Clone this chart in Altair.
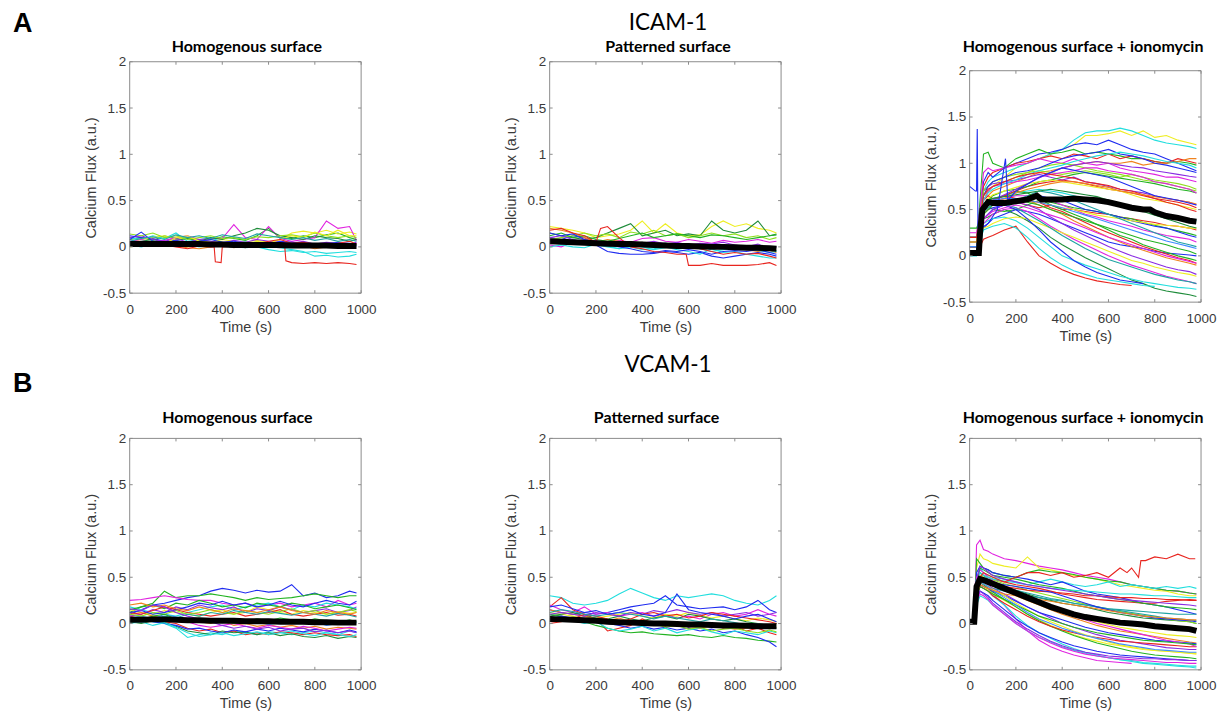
import sys
import altair as alt
import pandas as pd

# ------------------------------------------------------------------ data
PAL = {
    "r": "#e8251f", "g": "#22b322", "b": "#1f2cf0", "c": "#22dede",
    "m": "#e024e0", "y": "#eeee22", "o": "#f0821e", "dg": "#1e8c3a",
    "p": "#8a2be2", "l": "#8fe01e", "t": "#1fa3a3", "lb": "#3d8cff",
}

X_TICKS = [0, 200, 400, 600, 800, 1000]
Y_TICKS = [-0.5, 0, 0.5, 1, 1.5, 2]

T_BASE = [0, 50, 100, 150, 200, 250, 300, 350, 400, 450, 500, 550, 600, 650,
          700, 750, 800, 850, 900, 950, 980]

# ---- ICAM-1, homogenous surface
A1_MEAN = [0.03, 0.03, 0.03, 0.03, 0.03, 0.03, 0.03, 0.025, 0.025, 0.02, 0.02,
           0.02, 0.02, 0.02, 0.015, 0.015, 0.015, 0.015, 0.01, 0.01, 0.01]
A1_TRACES = [
    ("g",  [0.08, 0.10, 0.07, 0.12, 0.09, 0.10, 0.06, 0.08, 0.11, 0.09, 0.07, 0.12, 0.20, 0.10, 0.09, 0.12, 0.10, 0.13, 0.15, 0.10, 0.08]),
    ("b",  [0.12, 0.10, 0.09, 0.06, 0.04, 0.03, 0.05, 0.04, 0.02, 0.01, 0.03, 0.02, 0.00, 0.02, 0.03, 0.00, 0.01, 0.04, 0.02, 0.03, 0.01]),
    ("c",  [0.10, 0.08, 0.12, 0.09, 0.15, 0.06, 0.08, 0.10, 0.05, 0.03, 0.06, 0.02, 0.00, -0.01, -0.03, -0.05, -0.10, -0.09, -0.11, -0.10, -0.08]),
    ("y",  [0.05, 0.08, 0.10, 0.12, 0.08, 0.10, 0.07, 0.05, 0.08, 0.06, 0.05, 0.07, 0.05, 0.08, 0.15, 0.17, 0.15, 0.18, 0.14, 0.16, 0.14]),
    ("m",  [0.06, 0.08, 0.05, 0.07, 0.10, 0.12, 0.08, 0.09, 0.09, 0.24, 0.10, 0.08, 0.22, 0.09, 0.06, 0.08, 0.10, 0.28, 0.20, 0.22, 0.07]),
    ("o",  [0.02, 0.04, 0.03, 0.05, 0.01, -0.01, -0.02, 0.00, 0.02, -0.01, 0.01, 0.00, 0.03, 0.02, 0.00, 0.01, -0.02, 0.00, 0.02, 0.01, 0.03]),
    ("dg", [0.04, 0.06, 0.08, 0.05, 0.07, 0.09, 0.06, 0.10, 0.08, 0.12, 0.15, 0.20, 0.18, 0.12, 0.10, 0.08, 0.12, 0.10, 0.09, 0.06, 0.08]),
    ("p",  [0.10, 0.12, 0.08, 0.06, 0.09, 0.05, 0.08, 0.06, 0.04, 0.07, 0.05, 0.08, 0.06, 0.05, 0.04, 0.06, 0.03, 0.05, 0.04, 0.03, 0.05]),
    ("l",  [0.14, 0.12, 0.15, 0.10, 0.12, 0.08, 0.10, 0.12, 0.09, 0.10, 0.08, 0.11, 0.10, 0.12, 0.13, 0.11, 0.15, 0.12, 0.10, 0.12, 0.10]),
    ("c",  [0.02, 0.00, 0.03, 0.05, 0.02, 0.03, 0.00, 0.02, 0.01, 0.00, -0.01, 0.00, -0.03, -0.05, -0.04, -0.06, -0.05, -0.07, -0.06, -0.05, -0.06]),
    ("b",  [0.08, 0.16, 0.06, 0.05, 0.07, 0.04, 0.06, 0.08, 0.05, 0.06, 0.04, 0.05, 0.03, 0.06, 0.05, 0.04, 0.02, 0.03, 0.05, 0.04, 0.02]),
    ("y",  [0.00, 0.02, 0.05, 0.03, 0.10, 0.12, 0.06, 0.04, 0.03, 0.05, 0.02, 0.06, 0.04, 0.08, 0.12, 0.10, 0.16, 0.12, 0.18, 0.12, 0.12]),
    ("r",  [0.05, 0.03, 0.02, 0.04, 0.06, 0.03, 0.05, 0.03, 0.05, 0.02, 0.04, 0.03, 0.06, 0.08, 0.04, 0.05, 0.03, 0.02, 0.04, 0.06, 0.03]),
    ("t",  [0.06, 0.09, 0.11, 0.08, 0.13, 0.10, 0.12, 0.09, 0.13, 0.11, 0.09, 0.14, 0.12, 0.10, 0.08, 0.10, 0.07, 0.09, 0.06, 0.08, 0.06]),
]
A1_RED_T = [0, 50, 100, 150, 200, 250, 300, 350, 365, 370, 395, 400, 450, 500,
            550, 600, 650, 670, 675, 700, 750, 800, 850, 900, 950, 980]
A1_RED_Y = [0.03, 0.02, 0.04, 0.02, 0.00, -0.02, 0.01, 0.00, 0.00, -0.16, -0.17,
            0.00, 0.01, -0.01, 0.02, 0.00, -0.01, 0.00, -0.15, -0.17, -0.18,
            -0.17, -0.18, -0.17, -0.18, -0.19]

# ---- ICAM-1, patterned surface
A2_MEAN = [0.06, 0.055, 0.05, 0.045, 0.04, 0.035, 0.03, 0.03, 0.025, 0.02, 0.015,
           0.01, 0.01, 0.005, 0.0, 0.0, -0.005, -0.01, -0.01, -0.015, -0.02]
A2_TRACES = [
    ("y",  [0.22, 0.20, 0.18, 0.15, 0.10, 0.12, 0.14, 0.18, 0.28, 0.15, 0.25, 0.15, 0.12, 0.13, 0.22, 0.28, 0.22, 0.25, 0.20, 0.18, 0.15]),
    ("dg", [0.15, 0.12, 0.10, 0.08, 0.10, 0.15, 0.20, 0.25, 0.12, 0.15, 0.18, 0.12, 0.14, 0.12, 0.28, 0.18, 0.15, 0.18, 0.28, 0.12, 0.13]),
    ("b",  [0.10, 0.08, 0.12, 0.10, 0.02, -0.05, -0.07, -0.08, -0.08, -0.07, -0.05, -0.06, -0.08, -0.06, -0.10, -0.12, -0.10, -0.08, -0.06, -0.08, -0.10]),
    ("c",  [0.05, 0.03, 0.06, 0.04, 0.02, 0.00, -0.02, 0.00, -0.03, -0.02, 0.00, -0.03, -0.05, -0.08, -0.02, -0.06, -0.05, -0.08, -0.10, -0.12, -0.12]),
    ("m",  [0.02, 0.00, 0.05, 0.08, 0.06, 0.04, 0.07, 0.05, 0.09, 0.10, 0.06, 0.05, 0.08, 0.06, 0.04, 0.07, 0.05, 0.06, 0.08, 0.05, 0.06]),
    ("o",  [0.20, 0.18, 0.15, 0.10, 0.05, 0.08, 0.06, 0.04, 0.05, 0.03, 0.02, 0.04, 0.00, 0.02, 0.01, -0.02, 0.00, -0.03, -0.05, -0.04, -0.06]),
    ("l",  [0.08, 0.10, 0.12, 0.15, 0.12, 0.14, 0.10, 0.16, 0.14, 0.18, 0.12, 0.14, 0.10, 0.12, 0.15, 0.12, 0.14, 0.10, 0.12, 0.08, 0.10]),
    ("p",  [0.10, 0.12, 0.08, 0.05, 0.07, 0.03, 0.05, 0.02, 0.04, 0.06, 0.03, 0.05, 0.02, 0.04, 0.03, 0.05, 0.02, 0.00, 0.03, -0.02, 0.00]),
    ("g",  [0.12, 0.15, 0.10, 0.12, 0.08, 0.06, 0.09, 0.12, 0.15, 0.10, 0.12, 0.14, 0.12, 0.10, 0.13, 0.12, 0.10, 0.08, 0.10, 0.12, 0.14]),
    ("c",  [0.00, 0.02, 0.00, -0.01, 0.03, 0.01, -0.02, 0.02, 0.00, -0.03, -0.01, 0.02, 0.00, -0.02, -0.05, -0.03, 0.00, -0.02, -0.04, -0.06, -0.05]),
    ("b",  [0.15, 0.12, 0.14, 0.08, 0.05, 0.03, 0.00, -0.02, -0.05, -0.06, -0.04, -0.05, -0.03, -0.05, -0.08, -0.05, -0.04, -0.05, -0.03, -0.06, -0.08]),
    ("r",  [0.05, 0.07, 0.04, 0.06, 0.03, 0.05, 0.02, 0.04, 0.03, 0.01, 0.03, 0.00, 0.02, -0.02, -0.05, -0.08, -0.06, -0.08, -0.07, -0.10, -0.12]),
    ("t",  [0.04, 0.06, 0.03, 0.05, 0.02, 0.04, 0.06, 0.03, 0.05, 0.02, 0.04, 0.01, 0.03, 0.00, 0.02, -0.01, 0.01, -0.02, 0.00, -0.03, -0.04]),
]
A2_RED_T = [0, 50, 100, 150, 200, 220, 250, 300, 350, 400, 450, 500, 550, 590,
            600, 650, 700, 750, 800, 850, 900, 950, 980]
A2_RED_Y = [0.18, 0.20, 0.15, 0.12, 0.05, 0.20, 0.22, 0.10, 0.00, -0.02, -0.05,
            -0.06, -0.08, -0.08, -0.20, -0.20, -0.18, -0.20, -0.20, -0.20, -0.19,
            -0.17, -0.20]

# ---- ICAM-1, homogenous surface + ionomycin
T_A3 = [0, 30, 45, 60, 80, 100, 150, 200, 250, 300, 350, 400, 450, 500, 550,
        600, 650, 700, 750, 800, 850, 900, 950, 980]
A3_MEAN_T = [0, 20, 40, 45, 55, 80, 100, 150, 200, 250, 290, 310, 350, 400, 450,
             500, 550, 600, 650, 700, 750, 780, 800, 850, 900, 950, 980]
A3_MEAN_Y = [0.03, 0.03, 0.03, 0.25, 0.50, 0.58, 0.57, 0.57, 0.59, 0.61, 0.65,
             0.61, 0.61, 0.61, 0.62, 0.61, 0.60, 0.58, 0.55, 0.52, 0.50, 0.50,
             0.47, 0.43, 0.41, 0.38, 0.37]
A3_TRACES = [
    ("y",  [0.05, 0.05, 0.30, 0.60, 0.70, 0.75, 0.85, 0.95, 1.00, 1.05, 1.10, 1.15, 1.20, 1.30, 1.30, 1.32, 1.35, 1.30, 1.35, 1.28, 1.30, 1.25, 1.22, 1.20]),
    ("c",  [0.10, 0.10, 0.40, 0.70, 0.80, 0.85, 0.90, 0.95, 1.00, 1.05, 1.10, 1.15, 1.25, 1.33, 1.35, 1.35, 1.38, 1.35, 1.30, 1.25, 1.22, 1.20, 1.18, 1.16]),
    ("b",  [0.20, 0.20, 0.50, 0.80, 0.90, 0.85, 0.95, 1.00, 1.05, 1.10, 1.12, 1.15, 1.20, 1.22, 1.20, 1.25, 1.20, 1.15, 1.12, 1.10, 1.05, 1.00, 0.95, 0.92]),
    ("g",  [0.15, 0.15, 0.60, 1.10, 1.12, 1.00, 0.95, 1.05, 1.10, 1.15, 1.10, 1.12, 1.15, 1.10, 1.12, 1.10, 1.08, 1.05, 1.05, 1.02, 1.00, 1.02, 1.00, 0.98]),
    ("r",  [0.05, 0.05, 0.40, 0.75, 0.85, 0.90, 0.95, 1.00, 1.02, 1.05, 1.08, 1.05, 1.10, 1.08, 1.05, 1.10, 1.05, 1.08, 1.05, 1.02, 1.00, 1.05, 1.02, 1.00]),
    ("m",  [0.25, 0.25, 0.50, 0.90, 0.95, 0.92, 0.95, 0.98, 1.00, 1.05, 1.02, 1.00, 1.05, 1.00, 0.98, 1.00, 0.95, 0.92, 0.90, 0.88, 0.85, 0.85, 0.82, 0.80]),
    ("o",  [0.10, 0.10, 0.30, 0.60, 0.65, 0.70, 0.75, 0.80, 0.85, 0.90, 0.92, 0.95, 0.98, 1.00, 1.02, 1.00, 1.00, 1.02, 0.98, 1.00, 1.00, 1.02, 1.05, 1.05]),
    ("l",  [0.20, 0.20, 0.45, 0.65, 0.70, 0.75, 0.80, 0.85, 0.90, 0.92, 0.90, 0.88, 0.90, 0.92, 0.90, 0.88, 0.85, 0.88, 0.85, 0.82, 0.80, 0.78, 0.75, 0.72]),
    ("p",  [0.15, 0.15, 0.40, 0.70, 0.75, 0.78, 0.80, 0.82, 0.85, 0.88, 0.85, 0.82, 0.85, 0.80, 0.78, 0.75, 0.72, 0.70, 0.68, 0.65, 0.62, 0.60, 0.58, 0.55]),
    ("c",  [0.05, 0.05, 0.30, 0.55, 0.60, 0.62, 0.65, 0.68, 0.70, 0.72, 0.70, 0.68, 0.65, 0.62, 0.60, 0.58, 0.55, 0.52, 0.50, 0.48, 0.45, 0.42, 0.40, 0.38]),
    ("r",  [0.10, 0.10, 0.35, 0.60, 0.65, 0.62, 0.60, 0.58, 0.55, 0.52, 0.55, 0.50, 0.50, 0.48, 0.46, 0.45, 0.42, 0.40, 0.38, 0.36, 0.33, 0.32, 0.30, 0.28]),
    ("g",  [0.30, 0.30, 0.40, 0.50, 0.55, 0.50, 0.48, 0.50, 0.55, 0.60, 0.58, 0.55, 0.52, 0.50, 0.48, 0.45, 0.42, 0.40, 0.36, 0.33, 0.30, 0.27, 0.24, 0.22]),
    ("b",  [0.05, 0.05, 0.20, 0.40, 0.45, 0.50, 0.55, 0.60, 0.62, 0.65, 0.62, 0.60, 0.55, 0.50, 0.48, 0.45, 0.42, 0.38, 0.35, 0.32, 0.30, 0.26, 0.22, 0.20]),
    ("m",  [0.15, 0.15, 0.30, 0.50, 0.55, 0.60, 0.62, 0.65, 0.65, 0.62, 0.60, 0.55, 0.50, 0.45, 0.42, 0.38, 0.35, 0.32, 0.28, 0.25, 0.22, 0.20, 0.18, 0.15]),
    ("y",  [0.10, 0.10, 0.25, 0.45, 0.50, 0.55, 0.58, 0.60, 0.60, 0.58, 0.55, 0.52, 0.50, 0.47, 0.44, 0.42, 0.40, 0.38, 0.36, 0.34, 0.33, 0.32, 0.30, 0.30]),
    ("t",  [0.20, 0.20, 0.35, 0.55, 0.60, 0.58, 0.55, 0.60, 0.65, 0.70, 0.68, 0.65, 0.60, 0.55, 0.50, 0.45, 0.40, 0.35, 0.30, 0.25, 0.20, 0.15, 0.12, 0.10]),
    ("b",  [0.05, 0.05, 0.20, 0.30, 0.35, 0.40, 0.45, 0.50, 0.48, 0.45, 0.40, 0.35, 0.30, 0.25, 0.20, 0.15, 0.12, 0.10, 0.08, 0.05, 0.03, 0.02, 0.01, 0.00]),
    ("r",  [0.05, 0.05, 0.10, 0.18, 0.20, 0.22, 0.28, 0.32, 0.15, 0.00, -0.08, -0.15, -0.20, -0.24, -0.27, -0.29, -0.31, -0.32, None, None, None, None, None, None]),
    ("dg", [0.10, 0.10, 0.25, 0.40, 0.42, 0.45, 0.50, 0.45, 0.38, 0.30, 0.20, 0.12, 0.05, -0.02, -0.08, -0.14, -0.20, -0.26, -0.30, -0.35, -0.38, -0.40, -0.42, -0.44]),
    ("c",  [0.15, 0.15, 0.25, 0.35, 0.38, 0.40, 0.42, 0.38, 0.30, 0.20, 0.10, 0.00, -0.05, -0.10, -0.14, -0.18, -0.22, -0.25, -0.28, -0.30, -0.32, -0.34, -0.35, -0.36]),
    ("m",  [0.05, 0.05, 0.20, 0.35, 0.40, 0.45, 0.50, 0.52, 0.48, 0.40, 0.32, 0.25, 0.18, 0.12, 0.06, 0.00, -0.05, -0.10, -0.14, -0.18, -0.22, -0.25, -0.28, -0.30]),
    ("y",  [0.10, 0.10, 0.20, 0.30, 0.32, 0.35, 0.40, 0.42, 0.40, 0.35, 0.30, 0.25, 0.20, 0.15, 0.10, 0.05, 0.00, -0.05, -0.08, -0.12, -0.15, -0.18, -0.20, -0.22]),
    ("b",  [0.10, 0.10, 0.30, 0.45, 0.50, 0.52, 0.55, 0.50, 0.40, 0.28, 0.15, 0.05, -0.05, -0.12, -0.18, -0.22, -0.26, -0.28, -0.30, None, None, None, None, None]),
    ("o",  [0.05, 0.05, 0.25, 0.45, 0.50, 0.55, 0.60, 0.62, 0.60, 0.55, 0.50, 0.45, 0.38, 0.32, 0.26, 0.20, 0.15, 0.10, 0.06, 0.02, -0.02, -0.05, -0.08, -0.10]),
    ("g",  [0.20, 0.20, 0.35, 0.55, 0.60, 0.62, 0.65, 0.70, 0.68, 0.62, 0.55, 0.50, 0.45, 0.40, 0.34, 0.28, 0.22, 0.18, 0.12, 0.08, 0.04, 0.00, -0.03, -0.05]),
    ("p",  [0.10, 0.10, 0.25, 0.40, 0.45, 0.50, 0.55, 0.58, 0.55, 0.50, 0.42, 0.35, 0.28, 0.22, 0.16, 0.10, 0.05, 0.00, -0.04, -0.08, -0.12, -0.15, -0.17, -0.20]),
    ("c",  [0.00, 0.00, 0.15, 0.28, 0.30, 0.32, 0.35, 0.30, 0.20, 0.08, -0.02, -0.10, -0.16, -0.20, -0.24, -0.26, -0.28, -0.30, -0.32, -0.33, None, None, None, None]),
    ("r",  [0.10, 0.10, 0.30, 0.50, 0.55, 0.60, 0.65, 0.62, 0.60, 0.58, 0.52, 0.48, 0.42, 0.36, 0.30, 0.25, 0.20, 0.15, 0.10, 0.06, 0.02, -0.02, -0.05, -0.08]),
    ("l",  [0.10, 0.10, 0.40, 0.70, 0.75, 0.80, 0.85, 0.88, 0.90, 0.95, 0.98, 1.00, 0.98, 0.95, 0.92, 0.90, 0.88, 0.85, 0.82, 0.80, 0.78, 0.75, 0.72, 0.70]),
    ("b",  [0.05, 0.05, 0.35, 0.65, 0.75, 0.80, 0.85, 0.90, 0.92, 0.95, 1.00, 1.05, 1.08, 1.10, 1.12, 1.15, 1.10, 1.08, 1.05, 1.00, 0.98, 0.95, 0.92, 0.90]),
    ("r",  [0.10, 0.10, 0.30, 0.50, 0.55, 0.60, 0.65, 0.70, 0.75, 0.78, 0.80, 0.82, 0.80, 0.78, 0.75, 0.72, 0.70, 0.68, 0.65, 0.62, 0.60, 0.58, 0.55, 0.52]),
    ("g",  [0.05, 0.05, 0.30, 0.55, 0.60, 0.65, 0.70, 0.72, 0.75, 0.80, 0.82, 0.85, 0.88, 0.90, 0.88, 0.86, 0.84, 0.82, 0.80, 0.78, 0.75, 0.72, 0.70, 0.68]),
    ("m",  [0.20, 0.20, 0.40, 0.60, 0.70, 0.75, 0.78, 0.80, 0.82, 0.85, 0.88, 0.90, 0.92, 0.95, 0.95, 0.92, 0.90, 0.88, 0.85, 0.80, 0.78, 0.75, 0.72, 0.68]),
    ("c",  [0.05, 0.05, 0.35, 0.60, 0.68, 0.72, 0.78, 0.82, 0.88, 0.92, 0.95, 0.98, 1.02, 1.05, 1.08, 1.10, 1.12, 1.10, 1.08, 1.05, 1.02, 1.00, 0.98, 0.95]),
    ("y",  [0.15, 0.15, 0.35, 0.55, 0.62, 0.66, 0.70, 0.74, 0.78, 0.80, 0.82, 0.80, 0.78, 0.76, 0.74, 0.72, 0.70, 0.66, 0.62, 0.60, 0.58, 0.55, 0.52, 0.50]),
    ("p",  [0.05, 0.05, 0.25, 0.50, 0.55, 0.60, 0.66, 0.72, 0.78, 0.84, 0.90, 0.95, 0.98, 1.00, 1.02, 1.00, 0.98, 0.96, 0.95, 0.92, 0.90, 0.88, 0.86, 0.85]),
    ("g",  [0.10, 0.10, 0.30, 0.45, 0.50, 0.55, 0.58, 0.60, 0.58, 0.55, 0.50, 0.46, 0.42, 0.38, 0.34, 0.30, 0.26, 0.22, 0.18, 0.15, 0.12, 0.08, 0.05, 0.02]),
    ("r",  [0.20, 0.20, 0.40, 0.65, 0.72, 0.75, 0.80, 0.85, 0.88, 0.90, 0.88, 0.86, 0.84, 0.80, 0.78, 0.76, 0.72, 0.70, 0.66, 0.62, 0.58, 0.55, 0.50, 0.48]),
    ("t",  [0.10, 0.10, 0.30, 0.48, 0.52, 0.55, 0.56, 0.52, 0.45, 0.38, 0.30, 0.22, 0.15, 0.08, 0.02, -0.04, -0.08, -0.12, -0.16, -0.20, -0.23, -0.26, -0.28, -0.30]),
    ("o",  [0.15, 0.15, 0.30, 0.50, 0.55, 0.58, 0.62, 0.68, 0.72, 0.75, 0.78, 0.80, 0.80, 0.78, 0.76, 0.74, 0.70, 0.68, 0.66, 0.64, 0.62, 0.60, 0.58, 0.56]),
    ("m",  [0.10, 0.10, 0.25, 0.40, 0.44, 0.48, 0.52, 0.55, 0.52, 0.48, 0.44, 0.40, 0.35, 0.30, 0.25, 0.20, 0.16, 0.12, 0.08, 0.04, 0.00, -0.03, -0.06, -0.08]),
    ("dg", [0.05, 0.05, 0.30, 0.55, 0.60, 0.62, 0.64, 0.66, 0.68, 0.70, 0.72, 0.70, 0.68, 0.66, 0.64, 0.60, 0.56, 0.52, 0.48, 0.44, 0.40, 0.36, 0.32, 0.30]),
    ("lb", [0.10, 0.10, 0.30, 0.50, 0.55, 0.60, 0.62, 0.62, 0.60, 0.58, 0.55, 0.52, 0.48, 0.44, 0.40, 0.36, 0.32, 0.28, 0.24, 0.20, 0.16, 0.13, 0.10, 0.08]),
]
A3_BLUE_T = [0, 25, 30, 33, 36, 50, 80, 120, 155, 165, 200, 300, 400, 500, 600,
             700, 800, 900, 980]
A3_BLUE_Y = [0.75, 0.70, 0.70, 1.37, 0.30, 0.30, 0.35, 0.50, 1.05, 0.60, 0.70,
             0.85, 0.95, 0.90, 0.85, 0.75, 0.65, 0.60, 0.55]

# ---- VCAM-1, homogenous surface
B1_MEAN = [0.04, 0.04, 0.045, 0.045, 0.04, 0.035, 0.035, 0.03, 0.03, 0.03, 0.025,
           0.025, 0.025, 0.02, 0.02, 0.02, 0.015, 0.015, 0.01, 0.01, 0.01]
B1_TRACES = [
    ("b",  [0.10, 0.15, 0.20, 0.22, 0.25, 0.28, 0.30, 0.35, 0.38, 0.36, 0.33, 0.36, 0.34, 0.35, 0.42, 0.30, 0.33, 0.28, 0.30, 0.35, 0.33]),
    ("g",  [0.12, 0.18, 0.22, 0.35, 0.28, 0.30, 0.30, 0.32, 0.30, 0.28, 0.25, 0.28, 0.26, 0.27, 0.28, 0.30, 0.32, 0.30, 0.28, 0.30, 0.30]),
    ("m",  [0.25, 0.26, 0.28, 0.30, 0.28, 0.26, 0.25, 0.25, 0.22, 0.20, 0.22, 0.18, 0.20, 0.22, 0.18, 0.20, 0.22, 0.18, 0.25, 0.20, 0.22]),
    ("c",  [0.05, 0.03, 0.02, 0.00, -0.05, -0.15, -0.12, -0.10, -0.12, -0.08, -0.10, -0.12, -0.09, -0.10, -0.12, -0.10, -0.08, -0.10, -0.12, -0.08, -0.10]),
    ("r",  [0.08, 0.05, 0.03, 0.02, 0.00, -0.05, -0.08, -0.06, -0.10, -0.08, -0.12, -0.10, -0.12, -0.09, -0.10, -0.12, -0.10, -0.12, -0.13, -0.12, -0.14]),
    ("dg", [0.02, 0.00, 0.03, 0.01, -0.03, -0.08, -0.10, -0.12, -0.08, -0.10, -0.09, -0.12, -0.10, -0.13, -0.11, -0.14, -0.15, -0.13, -0.16, -0.14, -0.15]),
    ("y",  [0.15, 0.12, 0.10, 0.14, 0.12, 0.10, 0.08, 0.12, 0.15, 0.10, 0.12, 0.18, 0.15, 0.12, 0.10, 0.14, 0.12, 0.10, 0.13, 0.11, 0.12]),
    ("c",  [0.18, 0.15, 0.12, 0.10, 0.08, 0.12, 0.15, 0.18, 0.20, 0.15, 0.18, 0.20, 0.22, 0.18, 0.15, 0.20, 0.18, 0.22, 0.20, 0.18, 0.16]),
    ("p",  [0.08, 0.10, 0.15, 0.12, 0.18, 0.15, 0.20, 0.17, 0.15, 0.18, 0.12, 0.16, 0.14, 0.18, 0.15, 0.12, 0.14, 0.16, 0.12, 0.14, 0.18]),
    ("o",  [0.10, 0.12, 0.08, 0.06, 0.05, 0.03, 0.02, 0.00, 0.03, -0.02, 0.00, -0.03, -0.01, -0.04, -0.02, -0.05, -0.03, -0.06, -0.04, -0.05, -0.06]),
    ("b",  [0.03, 0.05, 0.02, 0.00, -0.02, -0.06, -0.05, -0.08, -0.10, -0.07, -0.09, -0.06, -0.08, -0.05, -0.07, -0.09, -0.06, -0.08, -0.10, -0.07, -0.09]),
    ("g",  [0.15, 0.18, 0.20, 0.16, 0.22, 0.20, 0.25, 0.22, 0.18, 0.20, 0.17, 0.22, 0.20, 0.18, 0.22, 0.20, 0.16, 0.18, 0.20, 0.17, 0.15]),
    ("r",  [0.12, 0.10, 0.14, 0.18, 0.15, 0.12, 0.10, 0.08, 0.10, 0.12, 0.08, 0.10, 0.12, 0.15, 0.10, 0.08, 0.10, 0.12, 0.09, 0.10, 0.08]),
    ("lb", [0.06, 0.08, 0.05, 0.10, 0.07, 0.05, 0.02, 0.04, 0.01, 0.03, 0.00, 0.02, -0.01, 0.01, 0.03, 0.00, 0.02, -0.02, 0.00, 0.02, 0.01]),
    ("m",  [0.02, 0.04, 0.06, 0.03, 0.05, 0.02, -0.02, -0.04, -0.02, 0.00, -0.03, -0.05, -0.02, -0.04, -0.06, -0.03, -0.05, -0.08, -0.06, -0.04, -0.05]),
    ("l",  [0.10, 0.08, 0.12, 0.10, 0.14, 0.10, 0.12, 0.15, 0.12, 0.10, 0.14, 0.12, 0.10, 0.13, 0.16, 0.12, 0.14, 0.10, 0.12, 0.15, 0.13]),
    ("t",  [0.04, 0.02, 0.05, 0.08, 0.06, 0.10, 0.08, 0.12, 0.10, 0.14, 0.12, 0.10, 0.13, 0.11, 0.09, 0.12, 0.10, 0.08, 0.11, 0.09, 0.07]),
    ("b",  [0.12, 0.14, 0.10, 0.12, 0.15, 0.18, 0.22, 0.20, 0.24, 0.20, 0.22, 0.18, 0.20, 0.24, 0.20, 0.18, 0.22, 0.25, 0.22, 0.20, 0.24]),
    ("o",  [0.20, 0.22, 0.18, 0.20, 0.16, 0.14, 0.18, 0.15, 0.12, 0.16, 0.14, 0.12, 0.15, 0.18, 0.14, 0.12, 0.10, 0.14, 0.12, 0.10, 0.12]),
    ("c",  [0.00, 0.02, -0.02, 0.01, -0.04, -0.10, -0.14, -0.12, -0.10, -0.13, -0.11, -0.09, -0.12, -0.10, -0.08, -0.11, -0.13, -0.10, -0.12, -0.14, -0.12]),
    ("g",  [0.06, 0.04, 0.08, 0.10, 0.05, 0.02, 0.04, 0.01, 0.03, 0.00, 0.02, 0.05, 0.03, 0.06, 0.04, 0.02, 0.05, 0.03, 0.01, 0.04, 0.02]),
    ("p",  [0.16, 0.14, 0.20, 0.18, 0.12, 0.08, 0.05, 0.02, -0.02, -0.05, -0.03, -0.06, -0.04, -0.08, -0.06, -0.05, -0.09, -0.07, -0.10, -0.08, -0.10]),
]

# ---- VCAM-1, patterned surface
B2_MEAN = [0.05, 0.045, 0.04, 0.035, 0.03, 0.02, 0.015, 0.01, 0.005, 0.0, 0.0,
           -0.005, -0.01, -0.01, -0.015, -0.02, -0.02, -0.025, -0.03, -0.03, -0.03]
B2_TRACES = [
    ("c",  [0.30, 0.28, 0.22, 0.20, 0.22, 0.25, 0.32, 0.38, 0.33, 0.28, 0.25, 0.30, 0.28, 0.30, 0.32, 0.30, 0.25, 0.22, 0.20, 0.25, 0.30]),
    ("b",  [0.15, 0.12, 0.10, 0.12, 0.10, 0.12, 0.15, 0.18, 0.20, 0.22, 0.30, 0.20, 0.18, 0.16, 0.17, 0.18, 0.15, 0.18, 0.25, 0.15, 0.12]),
    ("r",  [0.18, 0.28, 0.15, 0.10, 0.05, -0.08, -0.05, -0.02, 0.05, 0.00, -0.03, 0.02, -0.04, -0.02, 0.00, -0.05, -0.03, -0.08, -0.05, -0.10, -0.12]),
    ("g",  [0.10, 0.08, 0.05, 0.02, -0.02, -0.05, -0.08, -0.10, -0.09, -0.11, -0.12, -0.13, -0.12, -0.14, -0.15, -0.13, -0.15, -0.16, -0.18, -0.19, -0.20]),
    ("b",  [0.05, 0.08, 0.06, 0.04, 0.02, 0.00, -0.02, -0.05, -0.03, -0.06, -0.04, -0.07, -0.05, -0.08, -0.06, -0.10, -0.08, -0.12, -0.15, -0.20, -0.25]),
    ("m",  [0.20, 0.15, 0.12, 0.18, 0.10, 0.12, 0.08, 0.10, 0.12, 0.08, 0.10, 0.06, 0.08, 0.05, 0.10, 0.12, 0.08, 0.10, 0.15, 0.10, 0.08]),
    ("y",  [0.12, 0.10, 0.08, 0.05, 0.06, 0.08, 0.10, 0.12, 0.08, 0.06, 0.10, 0.08, 0.12, 0.09, 0.06, 0.08, 0.05, 0.03, 0.06, 0.04, 0.02]),
    ("c",  [0.02, 0.05, 0.03, 0.00, 0.02, -0.05, -0.08, -0.06, -0.03, -0.08, -0.05, -0.10, -0.07, -0.05, -0.09, -0.12, -0.08, -0.10, -0.12, -0.08, -0.10]),
    ("dg", [0.08, 0.10, 0.12, 0.08, 0.06, 0.05, 0.08, 0.05, 0.03, 0.06, 0.08, 0.05, 0.10, 0.08, 0.05, 0.03, 0.05, 0.02, 0.00, -0.02, 0.00]),
    ("o",  [0.15, 0.12, 0.10, 0.08, 0.05, 0.03, 0.06, 0.02, 0.00, 0.02, -0.02, 0.00, -0.03, -0.05, -0.02, -0.04, -0.06, -0.05, -0.03, -0.05, -0.04]),
    ("p",  [0.10, 0.12, 0.10, 0.08, 0.12, 0.10, 0.08, 0.12, 0.10, 0.14, 0.12, 0.15, 0.12, 0.10, 0.12, 0.08, 0.10, 0.12, 0.08, 0.10, 0.12]),
    ("l",  [0.06, 0.04, 0.07, 0.03, 0.05, 0.02, 0.00, 0.03, -0.02, 0.00, -0.04, -0.02, -0.06, -0.04, -0.08, -0.06, -0.05, -0.08, -0.10, -0.07, -0.09]),
    ("r",  [0.00, 0.02, 0.05, 0.10, 0.08, 0.05, 0.02, 0.05, 0.10, 0.12, 0.08, 0.10, 0.06, 0.08, 0.12, 0.10, 0.08, 0.06, 0.04, 0.02, 0.00]),
    ("t",  [0.12, 0.15, 0.13, 0.10, 0.08, 0.10, 0.12, 0.10, 0.08, 0.05, 0.08, 0.06, 0.04, 0.02, 0.05, 0.03, 0.01, -0.02, 0.00, -0.03, -0.05]),
    ("b",  [0.18, 0.20, 0.16, 0.12, 0.14, 0.10, 0.12, 0.15, 0.10, 0.08, 0.12, 0.32, 0.15, 0.12, 0.10, 0.08, 0.05, 0.08, 0.10, 0.05, 0.02]),
]

# ---- VCAM-1, homogenous surface + ionomycin
T_B3 = [0, 20, 30, 45, 60, 80, 100, 150, 200, 250, 300, 350, 400, 450, 500, 550,
        600, 650, 700, 750, 800, 850, 900, 950, 980]
B3_MEAN = [0.02, 0.02, 0.40, 0.48, 0.47, 0.45, 0.43, 0.38, 0.33, 0.28, 0.23, 0.18,
           0.14, 0.10, 0.07, 0.05, 0.03, 0.01, 0.00, -0.01, -0.03, -0.04, -0.05,
           -0.06, -0.08]
B3_TRACES = [
    ("m",  [0.00, 0.00, 0.85, 0.90, 0.80, 0.78, 0.75, 0.70, 0.68, 0.65, 0.62, 0.60, 0.58, 0.55, 0.52, 0.50, 0.48, 0.45, 0.42, 0.40, 0.38, 0.36, 0.35, 0.33, 0.32]),
    ("y",  [0.00, 0.00, 0.60, 0.75, 0.70, 0.68, 0.65, 0.62, 0.60, 0.72, 0.60, 0.58, 0.55, 0.52, 0.50, 0.48, 0.45, 0.42, 0.40, 0.38, 0.36, 0.35, 0.32, 0.30, 0.30]),
    ("g",  [0.00, 0.00, 0.70, 0.65, 0.60, 0.58, 0.55, 0.52, 0.50, 0.55, 0.58, 0.56, 0.55, 0.53, 0.50, 0.48, 0.46, 0.45, 0.42, 0.40, 0.38, 0.36, 0.35, 0.33, 0.32]),
    ("c",  [0.00, 0.00, 0.50, 0.60, 0.55, 0.52, 0.50, 0.48, 0.45, 0.42, 0.45, 0.48, 0.45, 0.42, 0.40, 0.42, 0.45, 0.40, 0.42, 0.40, 0.38, 0.40, 0.38, 0.40, 0.38]),
    ("b",  [0.00, 0.00, 0.55, 0.62, 0.60, 0.58, 0.55, 0.52, 0.50, 0.48, 0.45, 0.42, 0.45, 0.40, 0.35, 0.32, 0.30, 0.28, 0.25, 0.22, 0.20, 0.18, 0.15, 0.12, 0.10]),
    ("r",  [0.00, 0.00, 0.45, 0.55, 0.52, 0.50, 0.48, 0.45, 0.42, 0.40, 0.38, 0.35, 0.32, 0.30, 0.28, 0.26, 0.25, 0.24, 0.23, 0.22, 0.22, 0.24, 0.25, 0.26, 0.25]),
    ("dg", [0.00, 0.00, 0.40, 0.50, 0.48, 0.45, 0.42, 0.40, 0.36, 0.32, 0.28, 0.25, 0.22, 0.20, 0.18, 0.15, 0.12, 0.10, 0.08, 0.06, 0.05, 0.04, 0.03, 0.02, 0.00]),
    ("t",  [0.00, 0.00, 0.35, 0.45, 0.42, 0.40, 0.38, 0.35, 0.32, 0.30, 0.28, 0.26, 0.24, 0.22, 0.20, 0.18, 0.16, 0.15, 0.14, 0.13, 0.12, 0.11, 0.10, 0.10, 0.10]),
    ("p",  [0.00, 0.00, 0.40, 0.48, 0.45, 0.42, 0.38, 0.32, 0.25, 0.18, 0.12, 0.06, 0.00, -0.04, -0.08, -0.12, -0.15, -0.18, -0.20, -0.22, -0.24, -0.26, -0.27, -0.28, -0.28]),
    ("m",  [0.00, 0.00, 0.35, 0.45, 0.42, 0.38, 0.32, 0.20, 0.05, -0.08, -0.18, -0.25, -0.30, -0.34, -0.37, -0.40, -0.41, -0.42, -0.43, None, None, None, None, None, None]),
    ("c",  [0.00, 0.00, 0.30, 0.40, 0.38, 0.35, 0.30, 0.20, 0.08, -0.02, -0.10, -0.16, -0.22, -0.27, -0.31, -0.34, -0.37, -0.39, -0.41, -0.43, -0.44, -0.45, -0.46, -0.47, -0.48]),
    ("b",  [0.00, 0.00, 0.25, 0.35, 0.33, 0.30, 0.25, 0.15, 0.05, -0.03, -0.10, -0.15, -0.20, -0.24, -0.27, -0.30, -0.32, -0.34, -0.35, -0.36, -0.37, -0.38, -0.39, -0.40, -0.40]),
    ("y",  [0.00, 0.00, 0.30, 0.42, 0.40, 0.36, 0.32, 0.25, 0.18, 0.10, 0.04, -0.02, -0.07, -0.12, -0.16, -0.19, -0.22, -0.24, -0.26, -0.28, -0.29, -0.30, -0.31, -0.32, -0.33]),
    ("g",  [0.00, 0.00, 0.35, 0.45, 0.42, 0.38, 0.34, 0.26, 0.18, 0.10, 0.03, -0.03, -0.08, -0.13, -0.17, -0.21, -0.24, -0.27, -0.30, -0.32, -0.34, -0.35, -0.36, -0.37, -0.38]),
    ("r",  [0.00, 0.00, 0.30, 0.40, 0.38, 0.35, 0.30, 0.22, 0.15, 0.08, 0.02, -0.03, -0.07, -0.10, -0.13, -0.15, -0.17, -0.19, -0.20, -0.21, -0.22, -0.23, -0.24, -0.25, -0.25]),
    ("o",  [0.00, 0.00, 0.40, 0.50, 0.48, 0.45, 0.42, 0.36, 0.30, 0.25, 0.20, 0.15, 0.10, 0.06, 0.02, -0.02, -0.05, -0.08, -0.10, -0.12, -0.14, -0.16, -0.18, -0.20, -0.21]),
    ("l",  [0.00, 0.00, 0.45, 0.55, 0.52, 0.50, 0.47, 0.43, 0.40, 0.36, 0.33, 0.30, 0.27, 0.24, 0.21, 0.18, 0.15, 0.13, 0.11, 0.09, 0.07, 0.05, 0.03, 0.02, 0.00]),
    ("b",  [0.00, 0.00, 0.30, 0.42, 0.40, 0.38, 0.35, 0.30, 0.24, 0.18, 0.12, 0.08, 0.04, 0.00, -0.04, -0.07, -0.10, -0.12, -0.14, -0.16, -0.18, -0.19, -0.20, -0.21, -0.22]),
    ("m",  [0.00, 0.00, 0.50, 0.58, 0.55, 0.50, 0.46, 0.40, 0.34, 0.28, 0.22, 0.17, 0.12, 0.08, 0.04, 0.00, -0.03, -0.06, -0.09, -0.12, -0.15, -0.18, -0.20, -0.22, -0.25]),
    ("c",  [0.00, 0.00, 0.20, 0.30, 0.28, 0.25, 0.20, 0.10, 0.00, -0.08, -0.15, -0.20, -0.25, -0.29, -0.32, -0.35, -0.37, -0.39, -0.40, -0.42, -0.43, -0.44, -0.45, -0.46, -0.46]),
    ("g",  [0.00, 0.00, 0.45, 0.60, 0.58, 0.55, 0.52, 0.50, 0.48, 0.45, 0.42, 0.40, 0.38, 0.35, 0.32, 0.30, 0.28, 0.26, 0.24, 0.22, 0.20, 0.18, 0.17, 0.16, 0.15]),
    ("p",  [0.00, 0.00, 0.25, 0.35, 0.32, 0.28, 0.22, 0.12, 0.02, -0.06, -0.13, -0.19, -0.24, -0.28, -0.31, -0.33, -0.35, -0.36, -0.37, -0.38, -0.38, -0.39, -0.39, -0.40, -0.40]),
    ("y",  [0.00, 0.00, 0.35, 0.45, 0.43, 0.40, 0.37, 0.30, 0.22, 0.15, 0.08, 0.02, -0.03, -0.08, -0.12, -0.16, -0.20, -0.23, -0.25, -0.27, -0.29, -0.30, -0.31, -0.32, -0.32]),
    ("t",  [0.00, 0.00, 0.40, 0.55, 0.52, 0.48, 0.45, 0.40, 0.36, 0.33, 0.30, 0.27, 0.25, 0.22, 0.20, 0.18, 0.16, 0.14, 0.12, 0.10, 0.08, 0.06, 0.05, 0.04, 0.03]),
    ("r",  [0.00, 0.00, 0.35, 0.50, 0.48, 0.46, 0.44, 0.40, 0.38, 0.36, 0.35, 0.34, 0.33, 0.32, 0.30, 0.30, 0.29, 0.28, 0.28, 0.27, 0.27, 0.26, 0.26, 0.25, 0.25]),
    ("c",  [0.00, 0.00, 0.40, 0.55, 0.52, 0.50, 0.48, 0.46, 0.44, 0.42, 0.40, 0.38, 0.37, 0.36, 0.35, 0.34, 0.33, 0.32, 0.32, 0.31, 0.30, 0.30, 0.29, 0.28, 0.28]),
    ("g",  [0.00, 0.00, 0.30, 0.40, 0.38, 0.35, 0.32, 0.26, 0.20, 0.14, 0.08, 0.04, 0.00, -0.04, -0.07, -0.10, -0.12, -0.14, -0.16, -0.18, -0.19, -0.20, -0.21, -0.22, -0.23]),
    ("b",  [0.00, 0.00, 0.35, 0.50, 0.48, 0.46, 0.44, 0.42, 0.40, 0.38, 0.36, 0.34, 0.30, 0.26, 0.22, 0.18, 0.15, 0.12, 0.10, 0.08, 0.06, 0.05, 0.04, 0.03, 0.02]),
    ("m",  [0.00, 0.00, 0.25, 0.32, 0.30, 0.26, 0.20, 0.10, 0.00, -0.08, -0.15, -0.21, -0.26, -0.30, -0.33, -0.35, -0.37, -0.38, -0.39, -0.40, -0.41, -0.42, -0.42, -0.43, -0.43]),
    ("y",  [0.00, 0.00, 0.40, 0.52, 0.50, 0.47, 0.44, 0.38, 0.32, 0.26, 0.21, 0.16, 0.12, 0.08, 0.05, 0.02, -0.01, -0.04, -0.06, -0.08, -0.10, -0.12, -0.13, -0.14, -0.15]),
    ("lb", [0.00, 0.00, 0.30, 0.45, 0.43, 0.40, 0.36, 0.28, 0.20, 0.12, 0.05, 0.00, -0.05, -0.09, -0.13, -0.16, -0.19, -0.22, -0.24, -0.26, -0.28, -0.29, -0.30, -0.31, -0.31]),
    ("o",  [0.00, 0.00, 0.30, 0.42, 0.40, 0.38, 0.36, 0.32, 0.30, 0.28, 0.26, 0.24, 0.22, 0.20, 0.18, 0.16, 0.14, 0.12, 0.10, 0.08, 0.07, 0.06, 0.05, 0.04, 0.04]),
    ("p",  [0.00, 0.00, 0.45, 0.62, 0.60, 0.56, 0.52, 0.48, 0.45, 0.42, 0.40, 0.38, 0.36, 0.34, 0.32, 0.30, 0.28, 0.26, 0.25, 0.24, 0.23, 0.22, 0.21, 0.20, 0.19]),
]
B3_RED_T = [0, 20, 30, 45, 60, 100, 150, 200, 250, 300, 350, 400, 450, 500, 550,
            600, 650, 680, 700, 730, 740, 760, 800, 850, 900, 950, 975]
B3_RED_Y = [0.00, 0.00, 0.30, 0.50, 0.55, 0.50, 0.45, 0.50, 0.55, 0.55, 0.52, 0.55,
            0.50, 0.52, 0.55, 0.50, 0.60, 0.55, 0.60, 0.50, 0.68, 0.68, 0.72, 0.70,
            0.75, 0.70, 0.70]

# ------------------------------------------------------------------ style
W = 232
FRAME = "#8c8c8c"
TXT = "#3a3a3a"
AX_FONT = "Liberation Sans"
TITLE_FONT = "Lato"


def traces_df(times, traces, prefix, specials=()):
    rows = []
    for i, (ck, vals) in enumerate(traces):
        if len(vals) != len(times):
            print(f"warning: {prefix}{i} has {len(vals)} values", file=sys.stderr)
        for t, v in zip(times, vals):
            if v is not None:
                rows.append({"t": t, "y": v, "id": f"{prefix}{i}", "c": PAL[ck]})
    for j, (ck, ts, vs) in enumerate(specials):
        for t, v in zip(ts, vs):
            rows.append({"t": t, "y": v, "id": f"{prefix}s{j}", "c": PAL[ck]})
    return pd.DataFrame(rows)


def text_layer(s, x, y, font, size, weight, align, baseline="top"):
    return alt.Chart(pd.DataFrame({"s": [s]})).mark_text(
        font=font, fontSize=size, fontWeight=weight, align=align,
        baseline=baseline, color="black",
    ).encode(text="s:N", x=alt.value(x), y=alt.value(y))


def panel(df, mean_t, mean_y, title, title_x, title_y, top=0, extra=()):
    H = W + top
    xs = alt.Scale(domain=[0, 1000], nice=False)
    ys = alt.Scale(domain=[-0.5, 2], nice=False, range=[H, top])
    xax = alt.Axis(values=X_TICKS, title="Time (s)",
                   labelExpr="format(datum.value, 'd')")
    yax = alt.Axis(values=Y_TICKS, title="Calcium Flux (a.u.)",
                   labelExpr="datum.value < 0 ? '-' + format(-datum.value, '') : format(datum.value, '')")

    def X(f):
        return alt.X(f, type="quantitative", scale=xs, axis=xax)

    def Y(f):
        return alt.Y(f, type="quantitative", scale=ys, axis=yax)

    lines = alt.Chart(df).mark_line(strokeWidth=1.1).encode(
        x=X("t"), y=Y("y"), color=alt.Color("c:N", scale=None), detail="id:N")
    mean = alt.Chart(pd.DataFrame({"t": mean_t, "y": mean_y})).mark_line(
        color="black", strokeWidth=6).encode(x=X("t"), y=Y("y"))
    frame = alt.Chart(pd.DataFrame({"x0": [0], "x1": [1000], "y0": [2], "y1": [-0.5]})).mark_rect(
        filled=False, color=FRAME, strokeWidth=1).encode(x=X("x0"), x2="x1", y=Y("y0"), y2="y1")
    xt = pd.DataFrame({"v": X_TICKS})
    yt = pd.DataFrame({"v": Y_TICKS})
    tick_b = alt.Chart(xt).mark_rule(color=FRAME).encode(x=X("v"), y=alt.value(H), y2=alt.value(H - 3))
    tick_t = alt.Chart(xt).mark_rule(color=FRAME).encode(x=X("v"), y=alt.value(top), y2=alt.value(top + 3))
    tick_l = alt.Chart(yt).mark_rule(color=FRAME).encode(y=Y("v"), x=alt.value(0), x2=alt.value(3))
    tick_r = alt.Chart(yt).mark_rule(color=FRAME).encode(y=Y("v"), x=alt.value(W), x2=alt.value(W - 3))
    ttl = text_layer(title, title_x, title_y, TITLE_FONT, 16, "bold", "center", "middle")
    return alt.layer(lines, mean, frame, tick_b, tick_t, tick_l, tick_r, ttl, *extra).properties(
        width=W, height=H)


A1 = panel(traces_df(T_BASE, A1_TRACES, "a1", [("r", A1_RED_T, A1_RED_Y)]),
           T_BASE, A1_MEAN, "Homogenous surface", 117.4, -14.6,
           extra=[text_layer("A", -117, -50.4, AX_FONT, 27, "bold", "left")])
A2 = panel(traces_df(T_BASE, A2_TRACES, "a2", [("r", A2_RED_T, A2_RED_Y)]),
           T_BASE, A2_MEAN, "Patterned surface", 118.7, -14.6,
           extra=[text_layer("ICAM-1", 118.7, -50.1, TITLE_FONT, 22.5, "normal", "center")])
A3 = panel(traces_df(T_A3, A3_TRACES, "a3", [("b", A3_BLUE_T, A3_BLUE_Y)]),
           A3_MEAN_T, A3_MEAN_Y, "Homogenous surface + ionomycin", 113.7, -14.6, top=9)
B1 = panel(traces_df(T_BASE, B1_TRACES, "b1"),
           T_BASE, B1_MEAN, "Homogenous surface", 108, -20.2,
           extra=[text_layer("B", -117, -67.4, AX_FONT, 27, "bold", "left")])
B2 = panel(traces_df(T_BASE, B2_TRACES, "b2"),
           T_BASE, B2_MEAN, "Patterned surface", 107.2, -20.2,
           extra=[text_layer("VCAM-1", 118.7, -84.6, TITLE_FONT, 22.5, "normal", "center")])
B3 = panel(traces_df(T_B3, B3_TRACES, "b3", [("r", B3_RED_T, B3_RED_Y)]),
           T_B3, B3_MEAN, "Homogenous surface + ionomycin", 113.7, -20.2)

chart = alt.concat(
    A1, A2, A3, B1, B2, B3, columns=3,
    spacing=alt.RowColnumber(row=136.6, column=189),
    bounds="flush",
    padding={"left": 4, "top": 1, "right": 2, "bottom": 0},
).configure_view(
    stroke="transparent"
).configure_axis(
    domain=False, ticks=False, tickSize=0, grid=False,
    labelFont=AX_FONT, labelFontSize=13.5, labelColor=TXT,
    titleFont=AX_FONT, titleFontSize=14.5, titleFontWeight="normal", titleColor=TXT,
    labelOverlap=False, labelBound=False,
).configure_axisX(
    labelPadding=9, titlePadding=4.5, labelFlush=False,
).configure_axisY(
    labelPadding=4, titlePadding=4,
)

chart.save("out.html", embed_options={"renderer": "svg", "actions": False})
